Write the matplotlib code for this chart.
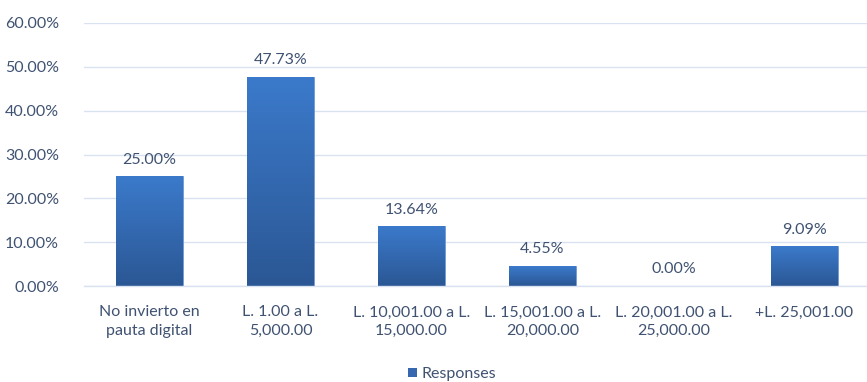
import matplotlib.pyplot as plt
import numpy as np
from matplotlib.colors import LinearSegmentedColormap
from matplotlib.patches import Patch

categories = ["No invierto en\npauta digital", "L. 1.00 a L.\n5,000.00",
              "L. 10,001.00 a L.\n15,000.00", "L. 15,001.00 a L.\n20,000.00",
              "L. 20,001.00 a L.\n25,000.00", "+L. 25,001.00"]
values = [25.00, 47.73, 13.64, 4.55, 0.00, 9.09]
yticks = [0, 10, 20, 30, 40, 50, 60]

text_col = "#3F5272"
grid_col = "#D9E2F1"
fs = 11.5
plt.rcParams['font.family'] = ['Lato', 'DejaVu Sans']

fig = plt.figure(figsize=(8.67, 3.82), dpi=100)
ax = fig.add_axes([84/867, 1 - 286/382, 783/867, 263/382])

x = np.arange(len(categories))
bars = ax.bar(x, values, width=0.51, color="#3568AE", edgecolor="#6F9BD6",
              linewidth=0.6, zorder=2)

# vertical gradient inside each bar
cmap = LinearSegmentedColormap.from_list("bar", ["#2B5794", "#3B7ACB"])
grad = np.linspace(0, 1, 256).reshape(-1, 1)
for b in bars:
    if b.get_height() <= 0:
        continue
    x0, y0 = b.get_x(), b.get_y()
    im = ax.imshow(grad, cmap=cmap, origin="lower", aspect="auto",
                   extent=(x0, x0 + b.get_width(), y0, y0 + b.get_height()),
                   zorder=2.5)
    im.set_clip_path(b)

for xi, v in zip(x, values):
    ax.text(xi, v + 2.2, f"{v:.2f}%", ha="center", va="bottom",
            fontsize=fs, color=text_col)

ax.set_xlim(-0.5, -0.5 + 783/131)
ax.set_ylim(0, 60)
ax.set_yticks(yticks)
ax.set_yticklabels([f"{t:.2f}%" for t in yticks], fontsize=fs, color=text_col)
ax.set_xticks(x)
ax.set_xticklabels(categories, fontsize=fs, color=text_col, linespacing=1.4)
ax.tick_params(axis="both", length=0)
ax.tick_params(axis="y", pad=18)
ax.tick_params(axis="x", pad=14)
ax.grid(axis="y", color=grid_col, linewidth=1.0, zorder=0)
for s in ["top", "right", "left"]:
    ax.spines[s].set_visible(False)
ax.spines["bottom"].set_color(grid_col)
ax.spines["bottom"].set_linewidth(1.0)

fig.legend(handles=[Patch(facecolor="#3568AE", label="Responses")],
           loc="center", bbox_to_anchor=(452/867, 1 - 374/382), frameon=False,
           fontsize=fs, handlelength=0.55, handleheight=0.55, handletextpad=0.3,
           labelcolor=text_col)

fig.savefig("out.png", dpi=100, facecolor="white")
